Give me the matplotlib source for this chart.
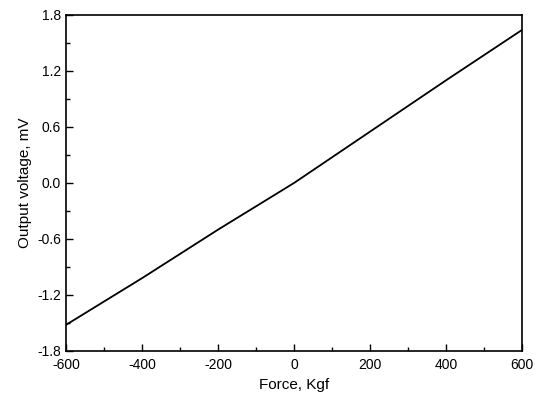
import matplotlib
matplotlib.use('Agg')
import matplotlib.pyplot as plt
from matplotlib.ticker import MultipleLocator, AutoMinorLocator

# Data
force = [-600, -400, -200, 0, 200, 400, 600]
voltage = [-1.52, -1.02, -0.50, 0.0, 0.55, 1.10, 1.64]

plt.rcParams['font.family'] = ['Liberation Sans', 'DejaVu Sans']
plt.rcParams['axes.unicode_minus'] = False

fig = plt.figure(figsize=(5.5, 3.99), dpi=100)
ax = fig.add_axes([66 / 550, 1 - 351 / 399, (522 - 66) / 550, (351 - 15) / 399])

ax.plot(force, voltage, color='black', linewidth=1.3)

ax.set_xlim(-600, 600)
ax.set_ylim(-1.8, 1.8)
ax.xaxis.set_major_locator(MultipleLocator(200))
ax.yaxis.set_major_locator(MultipleLocator(0.6))
ax.xaxis.set_minor_locator(AutoMinorLocator(2))
ax.yaxis.set_minor_locator(AutoMinorLocator(2))
ax.yaxis.set_major_formatter(plt.FormatStrFormatter('%.1f'))
ax.tick_params(which='both', direction='in', labelsize=10, width=1)
ax.tick_params(which='major', length=5)
ax.tick_params(which='minor', length=3)
ax.tick_params(axis='x', pad=5)
for s in ax.spines.values():
    s.set_linewidth(1.2)

ax.set_xlabel('Force, Kgf', fontsize=11)
ax.set_ylabel('Output voltage, mV', fontsize=11)

fig.savefig('out.png', dpi=100)
